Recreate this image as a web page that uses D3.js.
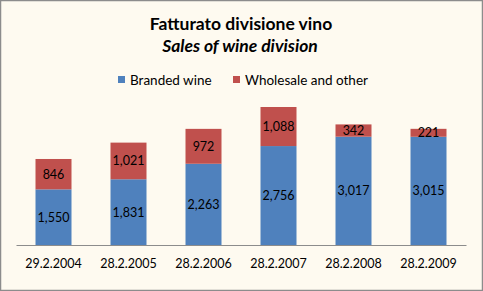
<!DOCTYPE html>
<html><head><meta charset="utf-8">
<script src="https://cdn.jsdelivr.net/npm/d3@7"></script>
<style>body{margin:0;background:#fff}svg{display:block}</style>
</head><body>
<script>
const categories = ["29.2.2004","28.2.2005","28.2.2006","28.2.2007","28.2.2008","28.2.2009"];
const branded = [1550,1831,2263,2756,3017,3015];
const wholesale = [846,1021,972,1088,342,221];
const seriesNames = ["Branded wine","Wholesale and other"];
const colors = ["#4F81BD","#C0504D"];

const W=483,H=291;
const svg=d3.select("body").append("svg").attr("width",W).attr("height",H);
svg.append("rect").attr("x",0.5).attr("y",0.5).attr("width",W-1).attr("height",H-1)
  .attr("fill","#FEFAF0").attr("stroke","#8c8c8c").attr("stroke-width",1.5);
const font="Lato, 'Open Sans', sans-serif";
svg.append("text").attr("x",241).attr("y",30).attr("text-anchor","middle")
  .attr("font-family",font).attr("font-weight","bold").attr("font-size",17.5).attr("fill","#000")
  .text("Fatturato divisione vino");
svg.append("text").attr("x",240).attr("y",52).attr("text-anchor","middle")
  .attr("font-family",font).attr("font-weight","bold").attr("font-style","italic").attr("font-size",17.5).attr("fill","#000")
  .text("Sales of wine division");

// legend
const leg=[{x:118,tx:130},{x:233,tx:245}];
seriesNames.forEach((n,i)=>{
  svg.append("rect").attr("x",leg[i].x).attr("y",76).attr("width",7).attr("height",7).attr("fill",colors[i]);
  svg.append("text").attr("x",leg[i].tx).attr("y",84.5).attr("font-family",font).attr("font-size",13.5).attr("fill","#000").text(n);
});

const x=d3.scaleBand().domain(categories).range([16,466]).paddingInner(0.52).paddingOuter(0.26);
const y=d3.scaleLinear().domain([0,4000]).range([245,101.4]);

const data=categories.map((c,i)=>({c,b:branded[i],w:wholesale[i]}));
const stack=d3.stack().keys(["b","w"])(data);
const g=svg.append("g");
stack.forEach((s,si)=>{
  g.selectAll(null).data(s).enter().append("rect")
    .attr("x",d=>x(d.data.c)).attr("width",x.bandwidth())
    .attr("y",d=>y(d[1])).attr("height",d=>y(d[0])-y(d[1]))
    .attr("fill",colors[si]);
  g.selectAll(null).data(s).enter().append("text")
    .attr("x",d=>x(d.data.c)+x.bandwidth()/2)
    .attr("y",d=>(y(d[0])+y(d[1]))/2+4.5)
    .attr("text-anchor","middle").attr("font-family",font).attr("font-size",12.5).attr("fill","#000")
    .text(d=>d3.format(",")(d[1]-d[0]));
});

const xa=d3.axisBottom(x).tickSize(0).tickPadding(14);
const ag=svg.append("g").attr("transform","translate(0,245)").call(xa);
ag.select(".domain").attr("stroke","#8c8c8c").attr("stroke-width",1.2);
ag.selectAll("text").attr("font-family",font).attr("font-size",12.5).attr("fill","#000");
</script>
</body></html>
